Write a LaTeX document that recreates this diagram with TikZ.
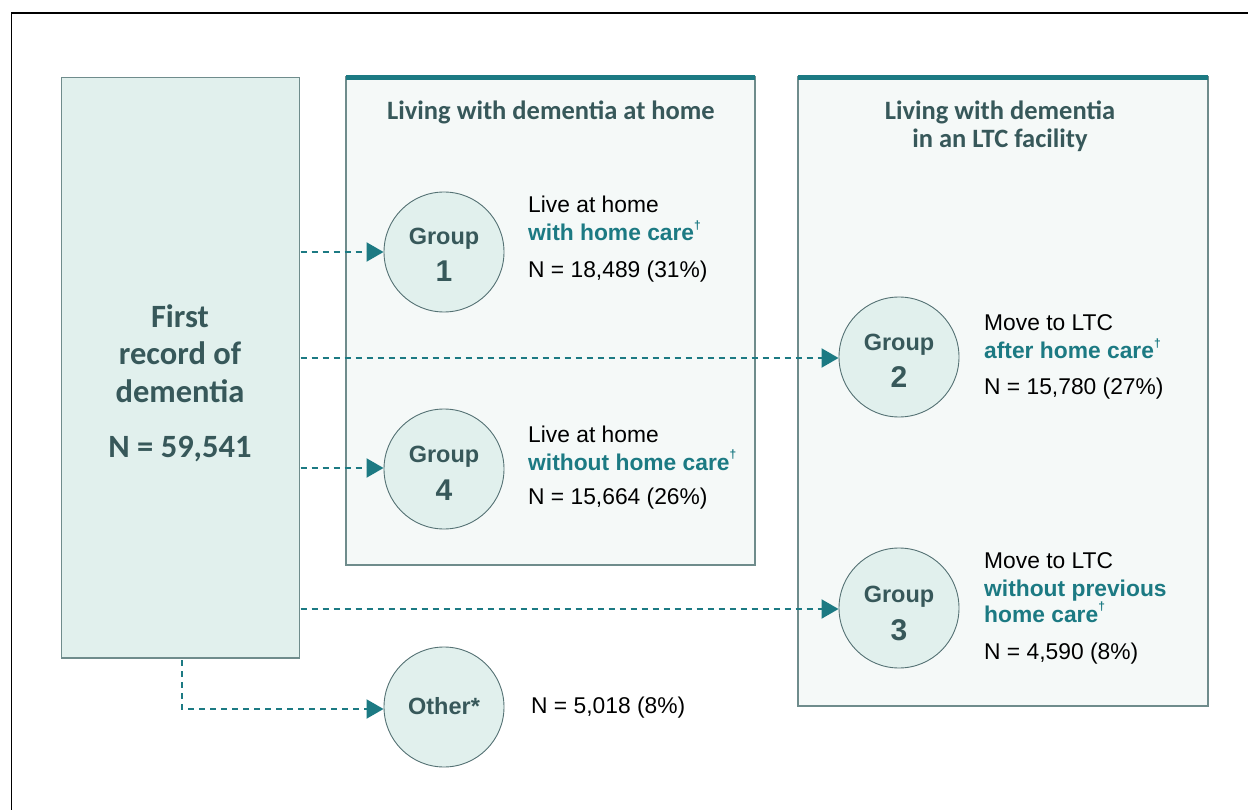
\documentclass[tikz,border=0pt]{standalone}
\usepackage{fontspec}
\setmainfont{Liberation Sans}
\newfontfamily\calfont{Carlito}
\usetikzlibrary{arrows.meta}
\definecolor{slate}{HTML}{37585A}
\definecolor{tealc}{HTML}{1C7A83}
\definecolor{boxfill}{HTML}{E1F0ED}
\definecolor{panelfill}{HTML}{F5F9F8}
\definecolor{panelline}{HTML}{6F8C8C}
\definecolor{circline}{HTML}{557274}
\newcommand{\mydagger}{\raisebox{0.5em}{\fontsize{12}{12}\selectfont †}}
\tikzset{
  panel/.style={draw=panelline, line width=1.1pt, fill=panelfill},
  topbar/.style={draw=tealc, line width=5pt},
  grp/.style={circle, draw=circline, line width=0.9pt, fill=boxfill, minimum size=120pt, inner sep=0pt},
  flow/.style={draw=tealc, line width=2pt, dash pattern=on 6pt off 5pt, -{Triangle[length=17pt,width=19pt]}},
  plain/.style={anchor=base west, inner sep=0pt, font=\fontsize{22.8}{27}\selectfont},
  hl/.style={anchor=base west, inner sep=0pt, text=tealc, font=\fontsize{22.8}{27}\selectfont\bfseries},
  glab/.style={anchor=base, inner sep=0pt, text=slate, font=\fontsize{23.5}{28}\selectfont\bfseries},
  gnum/.style={anchor=base, inner sep=0pt, text=slate, font=\fontsize{30}{34}\selectfont\bfseries},
  head/.style={anchor=base, inner sep=0pt, text=slate, font=\calfont\fontsize{26.5}{30}\selectfont\bfseries},
  big/.style={anchor=base, inner sep=0pt, text=slate, font=\calfont\fontsize{32.5}{36}\selectfont\bfseries},
}
\begin{document}
\begin{tikzpicture}[x=1pt,y=-1pt]
\useasboundingbox (0,0) rectangle (1248,810);
\clip (0,0) rectangle (1248,810);
\fill[white] (0,0) rectangle (1248,810);
% outer frame
\draw[black, line width=1.5pt] (11.5,13) rectangle (1270,830);
% left box
\draw[panelline, line width=1.1pt, fill=boxfill] (61.5,77.5) rectangle (299.5,658);
\node[big] (t1) at (180,328) {First};
\node[big] (t2) at (180,365) {record of};
\node[big] (t3) at (180,402) {dementia};
\node[big] (t4) at (180,457) {N = 59,541};
% panels
\draw[panel] (346,77) rectangle (755,565);
\draw[topbar] (346,77.5) -- (755,77.5);
\draw[panel] (798,77) rectangle (1208,706);
\draw[topbar] (798,77.5) -- (1208,77.5);
\node[head] (h1) at (551,119.5) {Living with dementia at home};
\node[head] (h2) at (1000,120) {Living with dementia};
\node[head] (h3) at (1000,148) {in an LTC facility};
% circles
\node[grp] (g1) at (444,252) {};
\node[grp] (g4) at (444,469) {};
\node[grp] (g2) at (899,357) {};
\node[grp] (g3) at (899,608) {};
\node[grp] (go) at (444,707) {};
\node[glab] at (444,245) {Group};
\node[gnum] at (444,282) {1};
\node[glab] at (444,462) {Group};
\node[gnum] at (444,500) {4};
\node[glab] at (899,351) {Group};
\node[gnum] at (899,388) {2};
\node[glab] at (899,602) {Group};
\node[gnum] at (899,640) {3};
\node[glab] at (444,714) {Other*};
% texts
\node[plain] at (528,213) {Live at home};
\node[hl] at (528,241) {with home care\mydagger};
\node[plain] at (528,278) {N = 18,489 (31\%)};
\node[plain] at (528,442) {Live at home};
\node[hl] at (528,470) {without home care\mydagger};
\node[plain] at (528,504) {N = 15,664 (26\%)};
\node[plain] at (984,331) {Move to LTC};
\node[hl] at (984,359) {after home care\mydagger};
\node[plain] at (984,394) {N = 15,780 (27\%)};
\node[plain] at (984,568) {Move to LTC};
\node[hl] at (984,596) {without previous};
\node[hl] at (984,622) {home care\mydagger};
\node[plain] at (984,659) {N = 4,590 (8\%)};
\node[plain] at (531,713) {N = 5,018 (8\%)};
% connectors
\coordinate (s1) at (300.5,252);
\coordinate (s2) at (300.5,358);
\coordinate (s4) at (300.5,468);
\coordinate (s3) at (300.5,609);
\coordinate (so) at (182,660);
\coordinate (bend) at (182,709);
\draw[flow] (s1) -- (g1.west);
\draw[flow] (s2) -- (s2 -| g2.west);
\draw[flow] (s4) -- (s4 -| g4.west);
\draw[flow] (s3) -- (s3 -| g3.west);
\draw[flow] (so) -- (bend) -- (bend -| go.west);
\end{tikzpicture}
\end{document}
